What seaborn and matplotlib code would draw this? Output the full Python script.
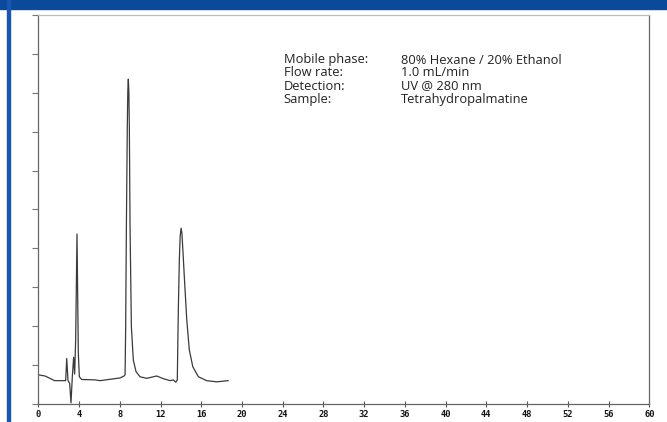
import matplotlib
matplotlib.use("Agg")
import matplotlib.pyplot as plt
import seaborn as sns
import pandas as pd
from matplotlib.patches import Rectangle

# Retention time (min) and detector signal (arbitrary units, 0-10 scale)
time_min = [0.00, 0.66, 1.60, 2.60, 2.69, 2.79, 2.92, 3.08, 3.21, 3.34, 3.47,
            3.57, 3.67, 3.80, 3.93, 4.03, 4.26, 5.57, 6.06, 8.03, 8.42,
            8.52, 8.58, 8.65, 8.74, 8.79, 8.84, 8.89, 8.94, 9.01, 9.14, 9.33, 9.60,
            9.99, 10.65, 11.63, 12.28, 12.94, 13.26, 13.50,
            13.65, 13.75, 13.85, 13.93, 14.02, 14.10, 14.18, 14.34, 14.58, 14.83,
            15.17, 15.72, 16.54, 17.52, 18.66]
signal = [0.75, 0.72, 0.60, 0.60, 0.60, 1.17, 0.60, 0.53, 0.03, 0.70, 1.20,
          0.77, 1.65, 4.37, 1.31, 0.70, 0.63, 0.62, 0.60, 0.67, 0.72,
          0.75, 1.99, 4.56, 7.13, 8.05, 8.35, 8.05, 7.13, 4.56, 1.99, 1.13, 0.83,
          0.70, 0.66, 0.72, 0.65, 0.60, 0.62, 0.56,
          0.62, 2.42, 3.70, 4.30, 4.52, 4.40, 4.04, 3.27, 2.16, 1.39,
          0.96, 0.70, 0.60, 0.57, 0.60]

x_ticks = list(range(0, 61, 4))
y_ticks = list(range(0, 11))

info_labels = ["Mobile phase:", "Flow rate:", "Detection:", "Sample:"]
info_values = ["80% Hexane / 20% Ethanol", "1.0 mL/min", "UV @ 280 nm",
               "Tetrahydropalmatine"]

df = pd.DataFrame({"time": time_min, "signal": signal})

sns.set_style("white")
plt.rcParams["font.family"] = ["Open Sans", "DejaVu Sans"]

W, H = 667, 422
fig = plt.figure(figsize=(W / 100, H / 100), dpi=100)
fig.patch.set_facecolor("white")

# header band and left border
fig.patches.append(Rectangle((0, 1 - 9 / H), 1, 9 / H, transform=fig.transFigure,
                             color="#0b4a9b", zorder=0))
fig.patches.append(Rectangle((7 / W, 0), 3 / W, 1, transform=fig.transFigure,
                             color="#1a56b0", zorder=0))

ax = fig.add_axes([38.3 / W, 18 / H, (649.3 - 38.3) / W, (404 - 15) / H])
sns.lineplot(data=df, x="time", y="signal", sort=False, ax=ax,
             color="#3a3a3a", linewidth=0.9)

ax.set_xlim(0, 60)
ax.set_ylim(0, 10)
ax.set_xticks(x_ticks)
ax.set_xticklabels([str(t) for t in x_ticks], fontsize=6.3, fontweight="bold",
                   family=["DejaVu Sans Mono"], color="#111111")
ax.set_yticks(y_ticks)
ax.set_yticklabels([])
ax.set_xlabel("")
ax.set_ylabel("")
ax.tick_params(axis="x", bottom=True, direction="inout", length=5, width=0.8,
               color="#555555", pad=2)
ax.tick_params(axis="y", left=True, direction="out", length=4, width=0.8,
               color="#777777")
for side, sp in ax.spines.items():
    sp.set_visible(True)
    sp.set_color("#666666" if side in ("left", "bottom", "right") else "#bbbbbb")
    sp.set_linewidth(0.9)

for i, (lab, val) in enumerate(zip(info_labels, info_values)):
    yy = 1 - (60 + 13 * i) / H
    fig.text(283.5 / W, yy, lab, fontsize=9.3, va="center", ha="left",
             color="#222222")
    fig.text(401 / W, yy, val, fontsize=9.3, va="center", ha="left",
             color="#222222")

fig.savefig("out.png", dpi=100)
